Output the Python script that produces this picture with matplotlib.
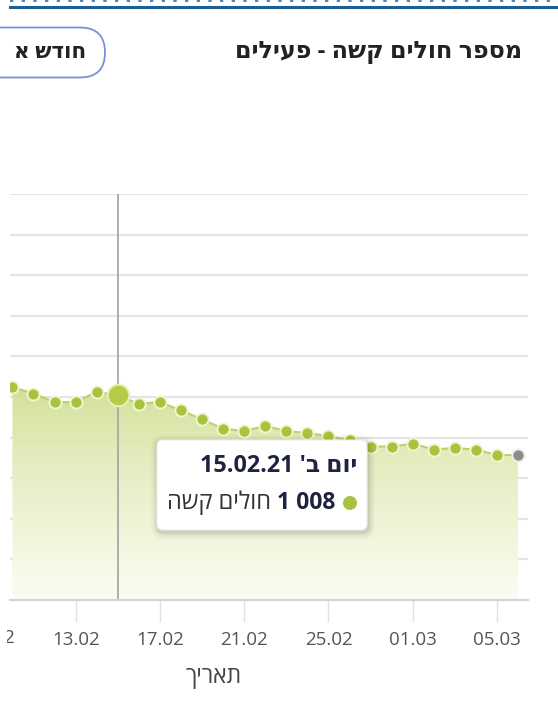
import numpy as np
import pandas as pd
import matplotlib
matplotlib.use("Agg")
import matplotlib.pyplot as plt
from matplotlib.patches import FancyBboxPatch, Circle
from matplotlib.transforms import Bbox, blended_transform_factory, Affine2D
from matplotlib.lines import Line2D

FONT = ['Open Sans', 'DejaVu Sans']
plt.rcParams['font.family'] = FONT

# ---------------- data ----------------
dates = ["10.02", "11.02", "12.02", "13.02", "14.02", "15.02", "16.02", "17.02",
         "18.02", "19.02", "20.02", "21.02", "22.02", "23.02", "24.02", "25.02",
         "26.02", "27.02", "28.02", "01.03", "02.03", "03.03", "04.03", "05.03",
         "06.03"]
values = [1049, 1017, 975, 975, 1025, 1008, 967, 975,
          934, 890, 844, 832, 858, 832, 822, 808,
          786, 756, 756, 770, 741, 749, 741, 714,
          714]
tick_labels = ["09.02", "13.02", "17.02", "21.02", "25.02", "01.03", "05.03"]
highlight_index = 5
weekday_label = "יום ב'"
series_name = "חולים קשה"
title_text = "מספר חולים קשה - פעילים"
button_text = "חודש א"
xlabel_text = "תאריך"
y_max = 2000
y_step = 200


def heb(s):
    return s[::-1]


def day_num(s):
    return (pd.Timestamp(f"2021-{s[3:5]}-{s[0:2]}") - pd.Timestamp("2021-02-10")).days


x = np.array([day_num(d) for d in dates], dtype=float)
y = np.array(values, dtype=float)
tick_pos = [day_num(t) for t in tick_labels]

W, H = 558, 720
fig = plt.figure(figsize=(W / 100, H / 100), dpi=100)
fig.patch.set_facecolor("white")
PX = Affine2D().scale(1, -1).translate(0, H)  # pixel coords, origin top-left


def fx(px):
    return px / W


def fy(py):
    return 1 - py / H


XL = (-0.114, 24.47)
ax = fig.add_axes([fx(10), fy(600), fx(528) - fx(10), fy(194) - fy(600)])
ax.set_facecolor("white")

# gridlines
ax.set_yticks(np.arange(y_step, y_max + 1, y_step))
ax.yaxis.grid(True, color="#e4e4e4", linewidth=1.5)
ax.set_axisbelow(True)
ax.tick_params(axis="y", left=False, labelleft=False)
for s in ["top", "right", "left"]:
    ax.spines[s].set_visible(False)
ax.spines["bottom"].set_color("#d3d3d3")
ax.spines["bottom"].set_linewidth(1.5)

# x ticks
vis = [(p, l) for p, l in zip(tick_pos, tick_labels) if p >= XL[0]]
ax.set_xticks([p for p, _ in vis])
ax.set_xticklabels([l for _, l in vis])
ax.tick_params(axis="x", direction="out", length=16, width=1, color="#dde3ec",
               labelsize=13.5, labelcolor="#555555", pad=6)

# off-range tick label partially visible at left edge
for p, l in zip(tick_pos, tick_labels):
    if p < XL[0]:
        t = ax.text(p, fy(638), l,
                    transform=blended_transform_factory(ax.transData, fig.transFigure),
                    ha="center", va="center", fontsize=13.5, color="#555555")
        t.set_clip_on(True)
        t.set_clip_path(None)
        t.set_clip_box(Bbox([[7, 0], [W, H]]))

# area with gradient
poly = ax.fill_between(x, y, 0, color="none", lw=0)
grad = np.linspace(0, 1, 256).reshape(-1, 1, 1)
top_c = np.array([0.82, 0.875, 0.58])
bot_c = np.array([0.985, 0.99, 0.95])
img = top_c * (1 - grad ** 0.75) + bot_c * (grad ** 0.75)
im = ax.imshow(img, extent=[x.min() - 1, x.max(), 0, y.max()], origin="upper",
               aspect="auto", zorder=1.5)
im.set_clip_path(poly.get_paths()[0], transform=ax.transData)
ax.set_xlim(*XL)
ax.set_ylim(0, y_max)

# crosshair
ax.axvline(x[highlight_index], color="#a8a8a8", linewidth=1.3, zorder=2)

# line and markers
ax.plot(x, y, color="#bcd06e", linewidth=1.5, zorder=3)
ax.plot(x[:-1], y[:-1], "o", ms=8.8, mfc="#a8c43e", mec="#f1f6d2", mew=1.4,
        zorder=4)
ax.plot(x[-1], y[-1], "o", ms=8.8, mfc="#8c8c8c", mec="#eeeeee", mew=1.4, zorder=4)
ax.plot(x[highlight_index], y[highlight_index], "o", ms=15.5, mfc="#b4cc48",
        mec="#e6efb5", mew=1.5, zorder=5)

fig.text(fx(214), fy(677), heb(xlabel_text), ha="center", va="center",
         fontsize=16.5, color="#444444")

# ---------------- header ----------------
fig.add_artist(Line2D([fx(10), fx(558)], [fy(7), fy(7)], color="#1c5f95",
                      linewidth=2.2))
fig.add_artist(Line2D([fx(10), fx(558)], [fy(0.8), fy(0.8)], color="#2a6fb0",
                      linewidth=1.2, linestyle=(0, (2, 5))))
fig.text(fx(522), fy(52), heb(title_text), ha="right", va="center",
         fontsize=17.2, fontweight="bold", color="#222222")
btn = FancyBboxPatch((-60, 27.5), 165, 50, boxstyle="round,pad=0,rounding_size=25",
                     transform=PX, facecolor="white", edgecolor="#7a8fd8",
                     linewidth=1.3)
fig.add_artist(btn)
fig.text(fx(86), fy(53), heb(button_text), ha="right", va="center",
         fontsize=15.5, fontweight="bold", color="#222222")

# ---------------- tooltip ----------------
bx0, by0, bx1, by1 = 157, 440, 367, 530
for k, a in [(7, 0.025), (5, 0.035), (3, 0.045), (1.5, 0.05)]:
    sh = FancyBboxPatch((bx0 - k + 1, by0 - k + 2), bx1 - bx0 + 2 * k,
                        by1 - by0 + 2 * k,
                        boxstyle=f"round,pad=0,rounding_size={6 + k}",
                        transform=PX, facecolor="black", alpha=a,
                        edgecolor="none", zorder=5)
    fig.add_artist(sh)
tip = FancyBboxPatch((bx0, by0), bx1 - bx0, by1 - by0,
                     boxstyle="round,pad=0,rounding_size=6",
                     transform=PX, facecolor="white",
                     edgecolor="#eeeeee", linewidth=0.8, zorder=6)
fig.add_artist(tip)

date_full = dates[highlight_index] + ".21"
fig.text(fx(357), fy(466), date_full + " " + heb(weekday_label), ha="right",
         va="center", fontsize=16.8, fontweight="bold", color="#1d2340",
         zorder=7)
val = int(values[highlight_index])
val_txt = f"{val:,}".replace(",", " ")
fig.add_artist(Circle((350, 503), 7, transform=PX,
                      facecolor="#a8c43e", edgecolor="none", zorder=7))
fig.text(fx(335), fy(503), val_txt, ha="right", va="center",
         fontsize=16.5, fontweight="bold", color="#1d2340", zorder=7)
fig.text(fx(271), fy(503), heb(series_name), ha="right", va="center",
         fontsize=17, color="#333333", zorder=7)

fig.savefig("out.png", dpi=100, facecolor="white")
